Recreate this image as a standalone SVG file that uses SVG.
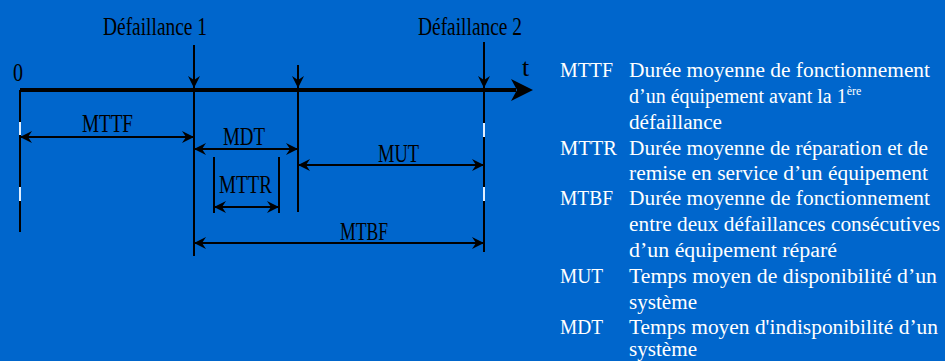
<svg xmlns="http://www.w3.org/2000/svg" width="945" height="361" viewBox="0 0 945 361">
  <style>
    .lbl { font-family: "Liberation Serif", "Times New Roman", serif; font-size: 26px; fill: #000; }
    .leg { font-family: "Liberation Serif", "Times New Roman", serif; font-size: 20px; fill: #fff; }
    .ln { stroke: #000; stroke-width: 2; fill: none; }
    .dim { stroke: #000; stroke-width: 2; fill: none; marker-start: url(#head); marker-end: url(#head); }
    .down { stroke: #000; stroke-width: 2; fill: none; marker-end: url(#head); }
    .tick { stroke: #dfeeff; stroke-width: 2; }
  </style>
  <defs>
    <marker id="head" viewBox="0 0 12 12" refX="12" refY="6" markerWidth="12" markerHeight="12" markerUnits="userSpaceOnUse" orient="auto-start-reverse">
      <path d="M0,0 L12,6 L0,12 L4,6 z" fill="#000"/>
    </marker>
  </defs>

  <rect width="945" height="361" fill="#0066CC"/>

  <!-- time axis -->
  <g id="axis">
    <line x1="20" y1="90" x2="516" y2="90" stroke="#000" stroke-width="4"/>
    <polygon points="511,79 533,90 511,101 517,90" fill="#000"/>
    <text class="lbl" x="13" y="81" textLength="10" lengthAdjust="spacingAndGlyphs">0</text>
    <text class="lbl" x="522" y="76">t</text>
  </g>

  <!-- failure events -->
  <g id="defaillance1">
    <text class="lbl" x="103" y="35" textLength="104" lengthAdjust="spacingAndGlyphs">Défaillance 1</text>
  </g>
  <g id="defaillance2">
    <text class="lbl" x="418" y="35" textLength="104" lengthAdjust="spacingAndGlyphs">Défaillance 2</text>
  </g>

  <g id="connectors">
    <!-- event markers on the axis -->
    <line class="down" x1="194" y1="45" x2="194" y2="88"/>
    <line class="down" x1="298" y1="65" x2="298" y2="88"/>
    <line class="down" x1="484" y1="42" x2="484" y2="88"/>

    <!-- reference verticals -->
    <line class="ln" x1="20" y1="90" x2="20" y2="232"/>
    <line class="ln" x1="194" y1="90" x2="194" y2="256"/>
    <line class="ln" x1="298" y1="90" x2="298" y2="212"/>
    <line class="ln" x1="484" y1="90" x2="484" y2="252"/>
    <line class="ln" x1="214" y1="157" x2="214" y2="213"/>
    <line class="ln" x1="279" y1="157" x2="279" y2="213"/>
    <line class="tick" x1="20" y1="122" x2="20" y2="135"/>
    <line class="tick" x1="20" y1="187" x2="20" y2="201"/>
    <line class="tick" x1="484" y1="123" x2="484" y2="137"/>
    <line class="tick" x1="484" y1="187" x2="484" y2="201"/>

    <!-- interval dimensions -->
    <line class="dim" x1="20" y1="137" x2="194" y2="137"/>
    <line class="dim" x1="194" y1="149" x2="298" y2="149"/>
    <line class="dim" x1="298" y1="165" x2="484" y2="165"/>
    <line class="dim" x1="214" y1="207" x2="279" y2="207"/>
    <line class="dim" x1="194" y1="243" x2="484" y2="243"/>
  </g>

  <g id="mttf"><text class="lbl" x="82" y="132" textLength="51" lengthAdjust="spacingAndGlyphs">MTTF</text></g>
  <g id="mdt"><text class="lbl" x="223" y="145" textLength="42" lengthAdjust="spacingAndGlyphs">MDT</text></g>
  <g id="mut"><text class="lbl" x="378" y="162" textLength="41" lengthAdjust="spacingAndGlyphs">MUT</text></g>
  <g id="mttr"><text class="lbl" x="219" y="193" textLength="53" lengthAdjust="spacingAndGlyphs">MTTR</text></g>
  <g id="mtbf"><text class="lbl" x="340" y="240" textLength="48" lengthAdjust="spacingAndGlyphs">MTBF</text></g>

  <!-- legend -->
  <g id="legend">
    <text class="leg" x="560" y="77" textLength="53" lengthAdjust="spacingAndGlyphs">MTTF</text>
    <text class="leg" x="629" y="77" textLength="301" lengthAdjust="spacingAndGlyphs">Durée moyenne de fonctionnement</text>
    <text class="leg" x="629" y="103">d’un équipement avant la 1<tspan font-size="12" dy="-8">ère</tspan></text>
    <text class="leg" x="629" y="129" textLength="93" lengthAdjust="spacingAndGlyphs">défaillance</text>

    <text class="leg" x="560" y="155" textLength="57" lengthAdjust="spacingAndGlyphs">MTTR</text>
    <text class="leg" x="629" y="155" textLength="299" lengthAdjust="spacingAndGlyphs">Durée moyenne de réparation et de</text>
    <text class="leg" x="629" y="180" textLength="299" lengthAdjust="spacingAndGlyphs">remise en service d’un équipement</text>

    <text class="leg" x="560" y="205" textLength="53" lengthAdjust="spacingAndGlyphs">MTBF</text>
    <text class="leg" x="629" y="205" textLength="301" lengthAdjust="spacingAndGlyphs">Durée moyenne de fonctionnement</text>
    <text class="leg" x="629" y="231" textLength="311" lengthAdjust="spacingAndGlyphs">entre deux défaillances consécutives</text>
    <text class="leg" x="629" y="257" textLength="208" lengthAdjust="spacingAndGlyphs">d’un équipement réparé</text>

    <text class="leg" x="560" y="283" textLength="43" lengthAdjust="spacingAndGlyphs">MUT</text>
    <text class="leg" x="629" y="283" textLength="308" lengthAdjust="spacingAndGlyphs">Temps moyen de disponibilité d’un</text>
    <text class="leg" x="629" y="309" textLength="68" lengthAdjust="spacingAndGlyphs">système</text>

    <text class="leg" x="560" y="334" textLength="43" lengthAdjust="spacingAndGlyphs">MDT</text>
    <text class="leg" x="629" y="334" textLength="309" lengthAdjust="spacingAndGlyphs">Temps moyen d'indisponibilité d’un</text>
    <text class="leg" x="629" y="356" textLength="68" lengthAdjust="spacingAndGlyphs">système</text>
  </g>
</svg>
